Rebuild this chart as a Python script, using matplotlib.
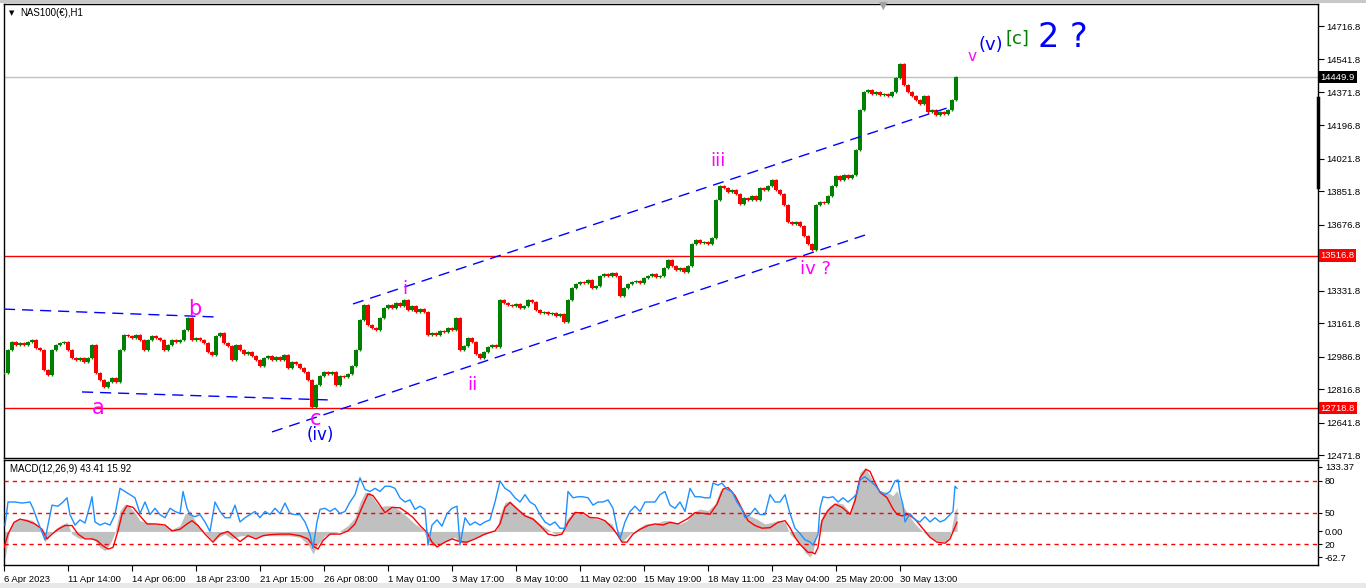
import matplotlib
matplotlib.use("Agg")
import matplotlib.pyplot as plt
from matplotlib.lines import Line2D
from matplotlib.patches import Rectangle

plt.rcParams["font.family"] = ["Liberation Sans", "DejaVu Sans"]

W, H = 1366, 588

# price closes, one every 4 hourly bars (bar number = first close at bar 4)
first_bar = 4
bar_step = 4
closes = [
    12903, 13023, 13065, 13049, 13060, 13049, 13065, 13075, 13034, 13023,
    12919, 12893, 13023, 13049, 13060, 13065, 13023, 12981, 12971, 12981,
    12960, 12981, 13049, 12903, 12866, 12830, 12856, 12877, 12856, 13023,
    13102, 13096, 13086, 13102, 13075, 13023, 13075, 13096, 13086, 13075,
    13023, 13049, 13075, 13065, 13075, 13128, 13190, 13075, 13086, 13075,
    13060, 13013, 12997, 13096, 13112, 13060, 13044, 12971, 13049, 13023,
    13002, 13013, 12992, 12971, 12940, 12981, 12992, 12971, 12987, 12971,
    12997, 12929, 12960, 12950, 12929, 12908, 12866, 12725, 12840, 12888,
    12908, 12898, 12908, 12840, 12888, 12882, 12898, 12940, 13023, 13180,
    13258, 13154, 13138, 13128, 13190, 13243, 13258, 13243, 13268, 13253,
    13285, 13232, 13253, 13222, 13237, 13222, 13102, 13112, 13102, 13122,
    13117, 13138, 13128, 13190, 13023, 13044, 13086, 13065, 13002, 12981,
    13013, 13039, 13049, 13039, 13285, 13268, 13258, 13253, 13263, 13243,
    13253, 13285, 13274, 13232, 13217, 13222, 13211, 13217, 13201, 13211,
    13170, 13285, 13347, 13368, 13379, 13373, 13389, 13347, 13358, 13410,
    13420, 13410, 13426, 13410, 13306, 13347, 13368, 13379, 13384, 13373,
    13399, 13410, 13420, 13405, 13410, 13452, 13494, 13462, 13441, 13452,
    13431, 13462, 13577, 13598, 13582, 13588, 13577, 13609, 13807, 13880,
    13870, 13849, 13860, 13839, 13787, 13818, 13807, 13828, 13807, 13870,
    13860, 13880, 13912, 13860, 13839, 13781, 13692, 13682, 13692, 13671,
    13619, 13577, 13546, 13781, 13797, 13792, 13828, 13880, 13933, 13912,
    13938, 13922, 13938, 14069, 14278, 14372, 14382, 14361, 14372, 14356,
    14361, 14351, 14372, 14445, 14518, 14408, 14372, 14351, 14330, 14309,
    14351, 14267, 14278, 14252, 14267, 14257, 14278, 14330, 14450,
]

# MACD main (histogram)
hist_bar = [4, 6, 10, 15, 20, 27, 33, 40, 45, 50, 55, 60, 67, 72, 80, 88, 95, 100,
            105, 110, 115, 120, 125, 130, 135, 140, 147, 155, 165, 172, 180, 185,
            190, 195, 200, 208, 213, 218, 225, 232, 240, 248, 256, 262, 270, 280,
            290, 300, 308, 313, 318, 325, 333, 340, 348, 355, 360, 365, 370, 375,
            380, 385, 390, 395, 400, 408, 415, 423, 428, 433, 440, 448, 455, 460,
            465, 472, 480, 490, 497, 500, 505, 510, 517, 525, 533, 540, 548, 555,
            562, 567, 575, 583, 590, 598, 605, 612, 617, 621, 625, 630, 637, 645,
            655, 663, 670, 680, 687, 692, 700, 708, 715, 720, 725, 730, 737, 742,
            750, 757, 765, 772, 778, 785, 790, 795, 800, 805, 810, 813, 818, 823,
            830, 837, 843, 850, 855, 860, 865, 870, 875, 880, 887, 893, 897, 902,
            908, 915, 922, 930, 937, 945, 950, 955, 957]
hist_val = [-55, -40, 7, 20, 23, 23, 20, 4, -20, -5, 4, 11, 17, -5, -14, -11, -17, -30,
            -36, -24, -2, 39, 51, 45, 35, 20, 17, 14, 11, 4, 11, 32,
            39, 20, 7, -8, -17, -11, -5, -14, -8, -8, -11, -8, -8, -8,
            -8, -11, -24, -42, -24, -8, -5, 1, 11, 26, 54, 73, 73, 57,
            45, 48, 48, 45, 39, 26, 14, 4, -17, -27, -24, -17, -11, -20,
            -24, -14, -8, -2, 4, 32, 54, 57, 45, 32, 26, 14, 4, -5,
            -2, 23, 39, 32, 26, 23, 20, 14, -5, -20, -14, -5, 4, 14,
            14, 20, 20, 14, 20, 35, 42, 39, 51, 76, 82, 76, 57, 39,
            29, 23, 14, 17, 20, 17, -5, -14, -24, -39, -48, -39, 7, 32,
            48, 54, 51, 35, 70, 110, 119, 104, 88, 76, 73, 67, 76, 51,
            32, 14, 1, -11, -17, -20, -8, 39, 45]

# MACD signal line
sig_bar = [4, 8, 14, 20, 27, 35, 42, 47, 52, 58, 65, 72, 78, 85, 92, 97, 103, 108,
           113, 118, 122, 127, 133, 140, 147, 155, 165, 172, 180, 187, 192, 198,
           205, 213, 220, 228, 235, 240, 248, 256, 263, 270, 280, 290, 300, 308,
           313, 318, 323, 330, 340, 348, 355, 362, 368, 373, 378, 385, 392, 400,
           407, 413, 420, 427, 432, 437, 445, 452, 460, 467, 475, 485, 495, 500,
           505, 510, 517, 525, 533, 540, 548, 555, 562, 568, 575, 583, 590, 598,
           605, 612, 617, 622, 627, 633, 640, 648, 655, 663, 670, 678, 687, 695,
           702, 710, 717, 723, 728, 735, 742, 748, 755, 762, 770, 778, 785, 790,
           795, 800, 808, 812, 815, 818, 822, 828, 835, 842, 850, 855, 860, 866,
           870, 875, 880, 887, 893, 897, 902, 908, 915, 922, 930, 937, 945, 950,
           957]
sig_val = [-30, -5, 17, 23, 20, 14, 4, -14, -5, 4, 11, 11, -5, -14, -14, -17, -27, -33,
           -30, 1, 32, 48, 45, 29, 14, 14, 12, 1, 4, 14, 20, 11,
           -5, -20, -5, 0, -11, -19, -8, -14, -8, -6, -5, -5, -8, -14,
           -27, -33, -17, -5, -5, 1, 14, 45, 70, 67, 54, 35, 45, 44,
           35, 26, 11, -2, -20, -29, -20, -14, -19, -20, -14, -5, 1, 14,
           45, 54, 42, 29, 23, 11, -5, -8, -5, 17, 35, 35, 26, 25,
           20, 7, -5, -20, -20, -5, 4, 11, 14, 12, 17, 14, 23, 35,
           34, 32, 51, 79, 82, 67, 42, 20, 11, 6, 7, 17, 20, 7,
           -11, -24, -39, -39, -42, -30, 20, 39, 51, 45, 32, 57, 100, 116,
           112, 91, 73, 63, 42, 32, 29, 32, 23, 7, -11, -20, -22, -14,
           17]

# oscillator drawn in blue on a 0..100 scale
sto_bar = [5, 8, 15, 22, 30, 33, 38, 45, 48, 52, 58, 63, 67, 70, 75, 80, 85, 90, 92,
           95, 100, 105, 110, 115, 120, 125, 130, 135, 140, 145, 150, 155, 160,
           165, 170, 175, 180, 183, 187, 190, 195, 200, 205, 210, 215, 220, 225,
           230, 235, 240, 245, 250, 255, 260, 265, 270, 275, 280, 285, 290, 295,
           300, 305, 310, 313, 317, 320, 325, 330, 335, 340, 345, 350, 355, 360,
           365, 370, 375, 380, 385, 390, 395, 400, 405, 410, 415, 420, 425, 428,
           432, 437, 442, 447, 452, 457, 460, 465, 470, 475, 480, 485, 490, 495,
           500, 505, 510, 515, 520, 525, 530, 535, 540, 545, 550, 555, 560, 565,
           568, 573, 578, 583, 588, 593, 598, 603, 608, 613, 617, 620, 625, 630,
           635, 640, 645, 650, 655, 660, 665, 670, 675, 680, 685, 690, 695, 700,
           705, 710, 713, 718, 722, 727, 732, 737, 742, 745, 750, 755, 760, 765,
           770, 775, 780, 785, 790, 795, 800, 805, 810, 813, 818, 820, 823, 828,
           833, 838, 843, 848, 853, 857, 860, 865, 870, 875, 880, 885, 890, 895,
           898, 900, 903, 905, 910, 915, 920, 925, 930, 935, 940, 945, 950, 953,
           955, 957]
sto_val = [38, 60, 60, 59, 60, 54, 41, 24, 38, 57, 56, 60, 64, 48, 38, 43, 40, 57, 65,
           41, 38, 40, 38, 48, 73, 70, 67, 64, 49, 60, 48, 54, 48,
           45, 54, 51, 49, 70, 54, 48, 46, 48, 41, 32, 60, 51, 45,
           45, 57, 41, 45, 48, 51, 45, 51, 48, 54, 49, 59, 49, 48,
           48, 41, 29, 16, 41, 53, 54, 51, 54, 49, 51, 60, 67, 83,
           72, 70, 73, 70, 75, 75, 73, 64, 60, 62, 53, 56, 53, 19,
           38, 43, 37, 49, 54, 56, 19, 45, 38, 41, 38, 41, 43, 60,
           80, 73, 70, 64, 60, 67, 60, 57, 48, 41, 38, 41, 35, 35,
           70, 64, 65, 65, 64, 57, 60, 60, 62, 54, 35, 25, 41, 51,
           56, 51, 60, 60, 60, 67, 70, 57, 54, 60, 51, 73, 65, 65,
           64, 64, 78, 76, 78, 72, 70, 60, 53, 45, 48, 54, 48, 48,
           67, 60, 60, 67, 49, 35, 30, 24, 22, 19, 29, 54, 65, 64,
           65, 60, 64, 60, 64, 68, 81, 84, 80, 76, 70, 67, 70, 80,
           81, 68, 57, 41, 49, 43, 41, 46, 41, 45, 41, 43, 48, 51,
           75, 73]

price_ticks = [14716.8, 14541.8, 14371.8, 14196.8, 14021.8, 13851.8, 13676.8,
               13331.8, 13161.8, 12986.8, 12816.8, 12641.8, 12471.8]
time_ticks = [4, 68, 132, 196, 260, 324, 388, 452, 516, 580, 644, 708, 772, 836, 900]
time_labels = ["6 Apr 2023", "11 Apr 14:00", "14 Apr 06:00", "18 Apr 23:00",
               "21 Apr 15:00", "26 Apr 08:00", "1 May 01:00", "3 May 17:00",
               "8 May 10:00", "11 May 02:00", "15 May 19:00", "18 May 11:00",
               "23 May 04:00", "25 May 20:00", "30 May 13:00"]

bid_price = 14449.9
red_levels = [13516.8, 12718.8]

# channel drawings: (bar0, price0, bar1, price1)
channel_lines = [
    (353, 13264, 947, 14288),
    (272, 12595, 865, 13624),
    (4, 13237, 215, 13196),
    (82, 12804, 330, 12762),
]

# wave labels: text, bar, price, colour, size
wave_labels = [
    ("a", 98, 12718, "#FF00FF", 15),
    ("b", 195, 13240, "#FF00FF", 15),
    ("c", 316, 12665, "#FF00FF", 15),
    ("(iv)", 320, 12580, "#0000FF", 12),
    ("i", 405, 13342, "#FF00FF", 13),
    ("ii", 472, 12840, "#FF00FF", 13),
    ("iii", 718, 14011, "#FF00FF", 13),
    ("iv ?", 815, 13447, "#FF00FF", 13),
    ("v", 972, 14555, "#FF00FF", 11),
    ("(v)", 991, 14620, "#0000FF", 13),
    ("[c]", 1017, 14651, "#008000", 13),
    ("2 ?", 1063, 14659, "#0000FF", 24),
]

ymin, ymax = 12458.7, 14831.8

fig = plt.figure(figsize=(W / 100, H / 100), dpi=100)
fig.patch.set_facecolor("white")


def fx(px):
    return px / W


def fy(py):
    return 1 - py / H


ax = fig.add_axes([fx(4), fy(458), (1318 - 4) / W, (458 - 4) / H])
axm = fig.add_axes([fx(4), fy(565), (1318 - 4) / W, (565 - 460) / H])

# candles
bars = [first_bar + bar_step * k for k in range(len(closes))]
opens = [closes[0]] + closes[:-1]
for b, o, c in zip(bars, opens, closes):
    col = "#008000" if c >= o else "#FF0000"
    ax.bar(b, c - o, bottom=o, width=3.2, color=col, linewidth=0, zorder=3)
    ax.vlines(b, min(o, c) - 4, max(o, c) + 4, color=col, linewidth=1, zorder=3)

ax.axhline(bid_price, color="#C0C0C0", lw=1, zorder=1)
for lv in red_levels:
    ax.axhline(lv, color="#FF0000", lw=1, zorder=1)

for b0, p0, b1, p1 in channel_lines:
    ax.plot([b0, b1], [p0, p1], color="#0000FF", lw=1, ls=(0, (8, 5)), zorder=4)

for txt, b, p, col, sz in wave_labels:
    ax.text(b, p, txt, color=col, fontsize=sz, ha="center", va="center", zorder=5,
            family="DejaVu Sans")

ax.set_xlim(4, 1318)
ax.set_ylim(ymin, ymax)
ax.set_xticks([])
ax.yaxis.tick_right()
ax.set_yticks(price_ticks)
ax.set_yticklabels(["%.1f" % v for v in price_ticks])
ax.tick_params(axis="y", direction="out", length=4, labelsize=6.8, pad=2, width=0.8)
for s in ax.spines.values():
    s.set_color("black")
    s.set_linewidth(1)

# MACD window
axm.fill_between(hist_bar, 0, hist_val, color="#C0C0C0", linewidth=0, zorder=2)
axm.plot(sig_bar, sig_val, color="#FF0000", lw=1, zorder=4)
axm.set_xlim(4, 1318)
axm.set_ylim(-62.7, 133.37)
axm.set_xticks(time_ticks)
axm.set_xticklabels(time_labels, ha="left")
axm.tick_params(axis="x", direction="out", length=4, labelsize=6.8, pad=3, width=0.8)
for s in axm.spines.values():
    s.set_color("black")
    s.set_linewidth(1)

axs = axm.twinx()
axs.set_ylim(0, 100)
for lv in (80, 50, 20):
    axs.axhline(lv, color="#FF0000", lw=1, ls=(0, (3, 3)), zorder=1)
axs.plot(sto_bar, sto_val, color="#1E90FF", lw=1, zorder=3)
axs.set_yticks([80, 50, 20])
axs.set_yticklabels(["80", "50", "20"])
axs.tick_params(axis="y", direction="out", length=3, labelsize=6.8, pad=2, width=0.8)
for s in axs.spines.values():
    s.set_visible(False)

# twinx moved the MACD ticks to the left; put them back on the right
axm.yaxis.tick_right()
axm.set_yticks([121, 0, -48.5])
axm.set_yticklabels(["133.37", "0.00", "-62.7"])
axm.tick_params(axis="y", direction="out", length=3, labelsize=6.8, pad=2, width=0.8)

# texts and price tags
fig.text(fx(12), fy(13), "\u25BC", fontsize=5, ha="center", va="center", family="DejaVu Sans")
fig.text(fx(20), fy(13), "NAS100(\u20ac),H1", fontsize=7, va="center")
fig.text(fx(10), fy(469), "MACD(12,26,9) 43.41 15.92", fontsize=7, va="center")
fig.text(fx(883), fy(6), "\u25BC", fontsize=8, color="#A0A0A0", ha="center", va="center",
         family="DejaVu Sans")

ax.text(1.002, (bid_price - ymin) / (ymax - ymin), "%.1f" % bid_price,
        transform=ax.transAxes, color="white", fontsize=6.8, va="center", ha="left",
        bbox=dict(facecolor="black", edgecolor="none", pad=1.2), zorder=10, clip_on=False)
for lv in red_levels:
    ax.text(1.002, (lv - ymin) / (ymax - ymin), "%.1f" % lv,
            transform=ax.transAxes, color="white", fontsize=6.8, va="center", ha="left",
            bbox=dict(facecolor="#FF0000", edgecolor="none", pad=1.2), zorder=10, clip_on=False)

fig.add_artist(Line2D([fx(1318), fx(1318)], [fy(98), fy(187)], color="black", lw=2.5))

# window frame
fig.add_artist(Rectangle((0, fy(3)), 1, 3 / H, transform=fig.transFigure,
                         facecolor="#C8C8C8", edgecolor="none"))
fig.add_artist(Rectangle((0, 0), 1, 5 / H, transform=fig.transFigure,
                         facecolor="#E8E8E8", edgecolor="none"))

fig.savefig("out.png", dpi=100)
